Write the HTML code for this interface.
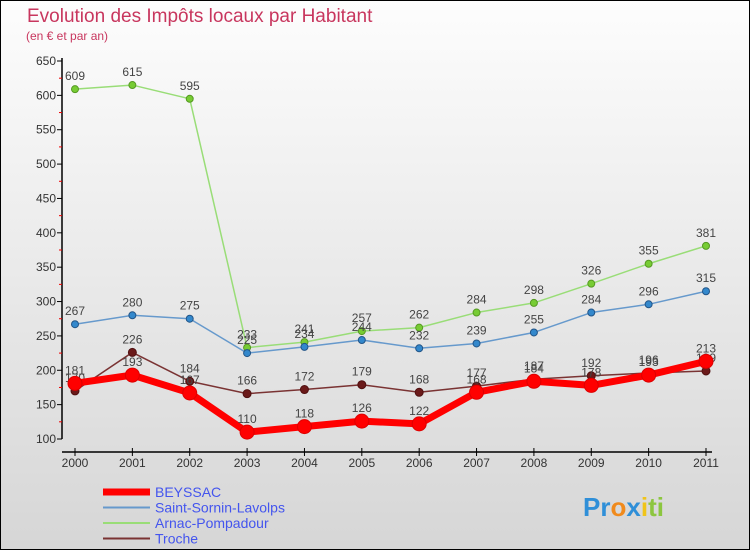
<!DOCTYPE html>
<html><head><meta charset="utf-8"><style>
body{margin:0;width:750px;height:550px;overflow:hidden;font-family:"Liberation Sans",sans-serif}
</style></head><body>
<svg width="750" height="550" xmlns="http://www.w3.org/2000/svg">
<defs><linearGradient id="bg" x1="0" y1="0" x2="0" y2="1"><stop offset="0" stop-color="#fdfdfd"/><stop offset="1" stop-color="#d6d6d6"/></linearGradient></defs>
<rect x="0.5" y="0.5" width="749" height="549" fill="url(#bg)" stroke="#000"/>
<text x="27" y="22" font-size="19" fill="#c8365e">Evolution des Impôts locaux par Habitant</text>
<text x="26" y="40" font-size="12" fill="#c8365e">(en € et par an)</text>
<g id="axes"></g>
<g id="series"></g>
<g id="legend"></g>
<text x="583" y="516" font-size="26" font-weight="bold"><tspan fill="#2f8fd8">Pr</tspan><tspan fill="#f08a1c">o</tspan><tspan fill="#2f8fd8">x</tspan><tspan fill="#f0c419">i</tspan><tspan fill="#8cc63f">ti</tspan></text>
</svg>
<script>
const years=[2000,2001,2002,2003,2004,2005,2006,2007,2008,2009,2010,2011];
const yTicks=[100,150,200,250,300,350,400,450,500,550,600,650];
const beyssac=[181,193,167,110,118,126,122,168,184,178,193,213];
const saintSornin=[267,280,275,225,234,244,232,239,255,284,296,315];
const arnac=[609,615,595,233,241,257,262,284,298,326,355,381];
const troche=[170,226,184,166,172,179,168,177,187,192,196,199];
const NS="http://www.w3.org/2000/svg";
const X=i=>75+i*(706-75)/11;
const Y=v=>439-(v-100)*(439-61)/550;
function mk(t,a,p){const e=document.createElementNS(NS,t);for(const k in a)e.setAttribute(k,a[k]);p.appendChild(e);return e;}
const ax=document.getElementById('axes');
let l=mk('line',{x1:62,y1:58,x2:62,y2:439,stroke:'#000','stroke-width':1.5},ax);


l=mk('line',{x1:62,y1:452,x2:712,y2:452,stroke:'#000','stroke-width':1.5},ax);


yTicks.forEach((v,i)=>{
 mk('line',{x1:57,y1:Y(v),x2:62,y2:Y(v),stroke:'#000'},ax);
 if(i<yTicks.length-1)mk('line',{x1:59,y1:Y(v+25),x2:62,y2:Y(v+25),stroke:'#e00'},ax);
 const t=mk('text',{x:56,y:Y(v)+4,'font-size':12,'text-anchor':'end',fill:'#333'},ax);
 t.textContent=v;
 
 
});
years.forEach((y,i)=>{
 mk('line',{x1:X(i),y1:448,x2:X(i),y2:456,stroke:'#000'},ax);
 const t=mk('text',{x:X(i),y:467,'font-size':12,'text-anchor':'middle',fill:'#333'},ax);
 t.textContent=y;
 
 
});
const sg=document.getElementById('series');
function draw(name,data,color,w,r,dot,dotStroke){
 const g=mk('g',{},sg);
 
 
 mk('polyline',{points:data.map((v,i)=>X(i)+','+Y(v)).join(' '),fill:'none',stroke:color,'stroke-width':w,'stroke-linejoin':'round'},g);
 data.forEach((v,i)=>{
  const c=mk('circle',{cx:X(i),cy:Y(v),r:r,fill:dot,stroke:dotStroke,'stroke-width':1},g);
  
  
  const t=mk('text',{x:X(i),y:Y(v)-9,'font-size':12,'text-anchor':'middle',fill:'#444'},g);
  t.textContent=v;
  
  
 });
}
draw('arnac',arnac,'#99dd77',1.5,3.5,'#77cc33','#559922');
draw('saint-sornin',saintSornin,'#6699cc',1.5,3.5,'#3388cc','#225588');
draw('troche',troche,'#7a3333',1.5,4,'#6b1a1a','#501010');
draw('beyssac',beyssac,'#ff0000',7,7,'#ff0000','#dd0000');
const lg=document.getElementById('legend');
const items=[['BEYSSAC','#ff0000',7],['Saint-Sornin-Lavolps','#6699cc',2],['Arnac-Pompadour','#99dd77',2],['Troche','#7a3333',2]];
items.forEach((it,i)=>{
 const y=492+i*15.5;
 const g=mk('g',{},lg);
 
 
 mk('line',{x1:103,y1:y,x2:150,y2:y,stroke:it[1],'stroke-width':it[2]},g);
 const t=mk('text',{x:155,y:y+5,'font-size':14,fill:'#4455ee'},g);
 t.textContent=it[0];
});
</script>
</body></html>
